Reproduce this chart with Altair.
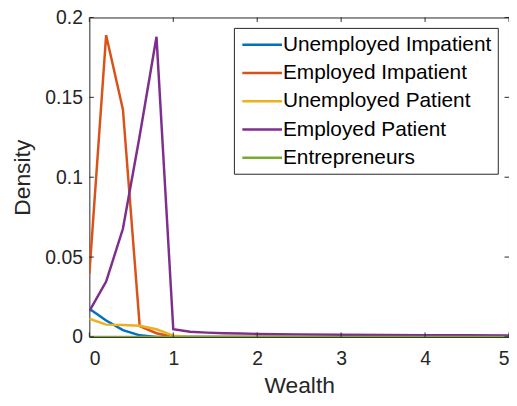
import altair as alt
import pandas as pd

# wealth grid and density of each group
wealth = [0.0, 0.2, 0.4, 0.6, 0.8, 1.0, 1.2, 1.4, 1.6, 1.8, 2.0, 2.5, 3.0, 3.5, 4.0, 4.5, 5.0]
unemp_impatient = [0.0176, 0.0103, 0.0043, 0.0010, 0, 0, 0, 0, 0, 0, 0, 0, 0, 0, 0, 0, 0]
emp_impatient = [0.0394, 0.1889, 0.1424, 0.0068, 0.0023, 0, 0, 0, 0, 0, 0, 0, 0, 0, 0, 0, 0]
unemp_patient = [0.0114, 0.0077, 0.0074, 0.0070, 0.0048, 0.0008, 0, 0, 0, 0, 0, 0, 0, 0, 0, 0, 0]
emp_patient = [0.0161, 0.0347, 0.0677, 0.1260, 0.1879, 0.0048, 0.0033, 0.0027, 0.0023,
               0.0021, 0.0019, 0.0016, 0.0013, 0.0012, 0.0011, 0.0010, 0.0009]
entrepreneurs = [0] * len(wealth)

series = ['Unemployed Impatient', 'Employed Impatient', 'Unemployed Patient',
          'Employed Patient', 'Entrepreneurs']
colors = ['#0072BD', '#D95319', '#EDB120', '#7E2F8E', '#77AC30']

x_ticks = [0, 1, 2, 3, 4, 5]
y_ticks = [0, 0.05, 0.1, 0.15, 0.2]

W, H = 423, 322
FONT = 'Liberation Sans'
INK = '#262626'

frames = []
for name, vals in zip(series, [unemp_impatient, emp_impatient, unemp_patient,
                               emp_patient, entrepreneurs]):
    frames.append(pd.DataFrame({'Wealth': wealth, 'Density': vals, 'Group': name}))
df = pd.concat(frames, ignore_index=True)

x_scale = alt.Scale(domain=[0, 5], nice=False)
y_scale = alt.Scale(domain=[0, 0.2], nice=False)

# legend line sample: a wide horizontal path so the row height follows the text
legend = alt.Legend(title=None, orient='none', legendX=145.7, legendY=10.5,
                    symbolType='M-2,0H2', symbolSize=400, symbolStrokeWidth=2.5,
                    symbolOffset=11.5, labelOffset=9.4, labelLimit=400,
                    labelFontSize=21, labelFont=FONT, labelColor='black',
                    rowPadding=6.5, padding=5.5, strokeColor=INK, fillColor='white')

lines = (
    alt.Chart(df)
    .mark_line(strokeWidth=2.5, clip=True)
    .encode(
        x=alt.X('Wealth:Q', scale=x_scale,
                axis=alt.Axis(values=x_ticks, format='~g', title='Wealth')),
        y=alt.Y('Density:Q', scale=y_scale,
                axis=alt.Axis(values=y_ticks, format='~g', title='Density')),
        color=alt.Color('Group:N', sort=series,
                        scale=alt.Scale(domain=series, range=colors),
                        legend=legend),
    )
)

# inward ticks on all four sides, like a boxed axes
xt = pd.DataFrame({'v': x_ticks})
yt = pd.DataFrame({'v': y_ticks})
tick_len = 4.5
bottom_ticks = alt.Chart(xt).mark_rule(color=INK).encode(
    x=alt.X('v:Q', scale=x_scale), y=alt.value(H), y2=alt.value(H - tick_len))
top_ticks = alt.Chart(xt).mark_rule(color=INK).encode(
    x=alt.X('v:Q', scale=x_scale), y=alt.value(0), y2=alt.value(tick_len))
left_ticks = alt.Chart(yt).mark_rule(color=INK).encode(
    y=alt.Y('v:Q', scale=y_scale), x=alt.value(0), x2=alt.value(tick_len))
right_ticks = alt.Chart(yt).mark_rule(color=INK).encode(
    y=alt.Y('v:Q', scale=y_scale), x=alt.value(W), x2=alt.value(W - tick_len))

chart = (
    alt.layer(lines, bottom_ticks, top_ticks, left_ticks, right_ticks)
    .properties(width=W, height=H, autosize=alt.AutoSizeParams(type='none'),
                padding={'left': 82, 'top': 8, 'right': 0, 'bottom': 60})
    .configure_view(stroke=INK, strokeWidth=1)
    .configure_axis(domain=False, ticks=False, grid=False,
                    labelFont=FONT, labelFontSize=19.5, labelColor=INK,
                    titleFont=FONT, titleFontSize=23, titleFontWeight='normal',
                    titleColor=INK)
    .configure_axisX(labelPadding=13, titlePadding=7)
    .configure_axisY(labelPadding=7, titlePadding=10)
)

chart.save("out.html", embed_options={"renderer": "svg", "actions": False})
